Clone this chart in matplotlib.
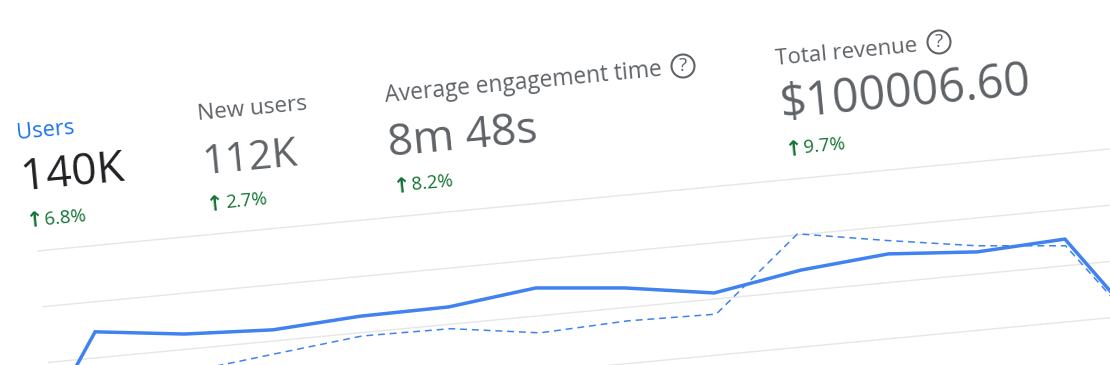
import matplotlib
matplotlib.use("Agg")
import matplotlib.pyplot as plt
from matplotlib.patches import Circle
from matplotlib.transforms import Affine2D, IdentityTransform

W, H = 1110, 365
ANGLE = 5.43

days = list(range(14))
users = [0.26, 4.93, 4.55, 4.40, 4.59, 4.62, 5.00, 4.70, 4.22, 4.74, 5.02, 4.79, 4.95, 0.54]
prev_days = list(range(2, 14))
prev_users = [3.19, 3.54, 3.88, 3.84, 3.39, 3.52, 3.46, 6.04, 5.50, 5.01, 4.71, 0.43]
grid_values = [0, 2, 4, 6, 8]

metric_names = ["Users", "New users", "Average engagement time", "Total revenue"]
metric_values = ["140K", "112K", "8m 48s", "$100006.60"]
metric_changes = ["6.8%", "2.7%", "8.2%", "9.7%"]

BLUE_TEXT = "#1a73e8"
DARK = "#202124"
GRAY = "#5f6368"
GREEN = "#137333"
LINE = "#4082f0"
GRID = "#e6e6e6"

plt.rcParams["font.family"] = ["Open Sans", "DejaVu Sans"]
fig = plt.figure(figsize=(W / 100, H / 100), dpi=100, facecolor="white")

# chart axes, unrotated, then turned about the left end of the top gridline
ax = fig.add_axes([-1.4 / W, -110 / H, 1151.4 / W, 224 / H])
ax.set_xlim(0, 13)
ax.set_ylim(0, 8)
ax.axis("off")
turn = Affine2D().rotate_deg_around(37, 114, ANGLE)
tr = ax.transData + turn

ax.hlines(grid_values, 0.434, 13, colors=GRID, linewidth=1.0, transform=tr, clip_on=False, zorder=1)
ax.plot(prev_days, prev_users, color=LINE, linewidth=1.1, dashes=(4.5, 3.2), transform=tr,
        clip_on=False, zorder=2, solid_joinstyle="miter")
ax.plot(days, users, color=LINE, linewidth=2.5, transform=tr, clip_on=False, zorder=3,
        solid_joinstyle="miter")


def put(x, y, s, size, color, rot=ANGLE, **kw):
    fig.text(x / W, 1 - y / H, s, fontsize=size, color=color, rotation=rot,
             rotation_mode="anchor", ha="left", va="baseline", **kw)


name_pos = [(17, 139), (198, 120), (385, 102), (776, 65)]
value_pos = [(22, 190), (203, 174), (389, 156), (781, 118)]
change_pos = [(45, 225), (226, 208), (412, 190), (804, 153)]
arrow_pos = [(27, 227), (207, 211), (394, 193), (786, 156)]
name_colors = [BLUE_TEXT, GRAY, GRAY, GRAY]
name_sizes = [15.7, 16.2, 16.4, 16]
value_colors = [DARK, GRAY, GRAY, GRAY]
value_sizes = [32, 29.5, 32, 33.5]

for i in range(4):
    put(*name_pos[i], metric_names[i], name_sizes[i], name_colors[i])
    put(*value_pos[i], metric_values[i], value_sizes[i], value_colors[i])
    put(*change_pos[i], metric_changes[i], 13.5, GREEN)
    put(*arrow_pos[i], "↑", 15, GREEN, family="DejaVu Sans", fontweight="bold")

for cx, cy in [(683, 66), (939, 42)]:
    fig.add_artist(Circle((cx, H - cy), 11.5, transform=IdentityTransform(), fill=False,
                          edgecolor=GRAY, linewidth=1.5))
    fig.text(cx / W, 1 - cy / H, "?", fontsize=13.5, color=GRAY, ha="center", va="center")

fig.savefig("out.png", dpi=100, facecolor="white")
